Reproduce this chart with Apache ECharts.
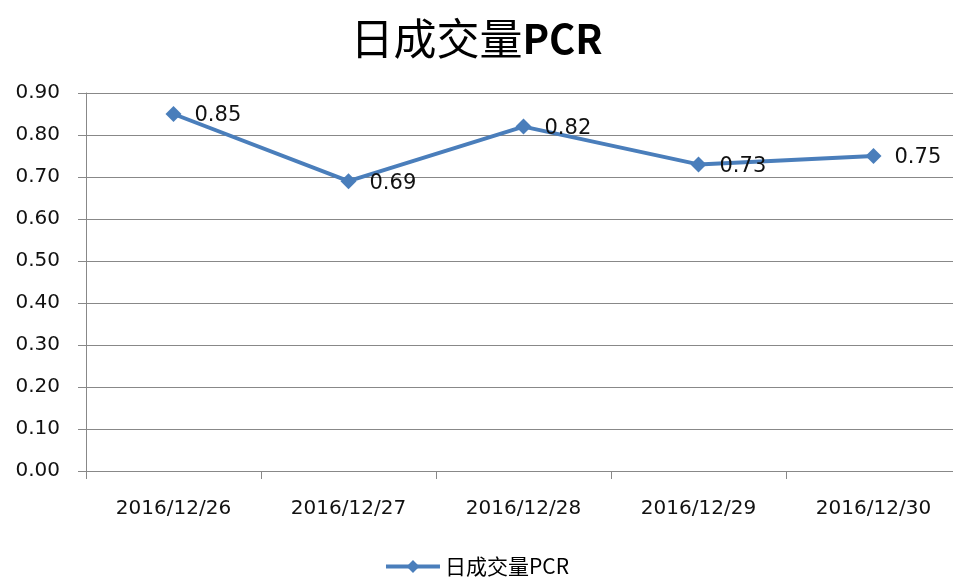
<!DOCTYPE html>
<html>
<head>
<meta charset="utf-8">
<script src="https://cdn.jsdelivr.net/npm/echarts@6/dist/echarts.min.js"></script>
<style>
  html, body { margin: 0; padding: 0; background: #fff; }
  #line { width: 953px; height: 580px; }
</style>
</head>
<body>
<div id="line"></div>
<script>
const categories = ["2016/12/26", "2016/12/27", "2016/12/28", "2016/12/29", "2016/12/30"];
const pcrValues = [0.85, 0.69, 0.82, 0.73, 0.75];
const seriesName = "日成交量PCR";

const chart = echarts.init(document.getElementById("line"));
const option = {
  animation: false,
  title: {
    // 标题：中文常规 + PCR 加粗
    text: "{a|日成交量}{b|PCR}",
    left: "center",
    top: 12,
    textStyle: {
      fontWeight: "normal",
      rich: {
        a: { fontFamily: "Noto Sans CJK SC", fontSize: 43, fontWeight: "normal", color: "#000" },
        b: { fontFamily: "Noto Sans CJK SC", fontSize: 40, fontWeight: "bold", color: "#000" }
      }
    }
  },
  legend: {
    data: [seriesName],
    bottom: -2,
    left: "center",
    itemWidth: 54,
    itemHeight: 16,
    lineStyle: { width: 4 },
    textStyle: {
      fontFamily: "Noto Sans CJK SC",
      fontSize: 21,
      color: "#000"
    }
  },
  grid: {
    left: 86,
    width: 875,
    top: 93,
    bottom: 109,
    outerBoundsMode: "none"
  },
  xAxis: {
    type: "category",
    data: categories,
    boundaryGap: true,
    axisLine: { lineStyle: { color: "#888", width: 1 } },
    axisTick: { show: true, length: 8, lineStyle: { color: "#888" } },
    axisLabel: {
      margin: 28,
      fontFamily: "DejaVu Sans",
      fontSize: 20,
      color: "#111"
    }
  },
  yAxis: {
    type: "value",
    min: 0,
    max: 0.9,
    interval: 0.1,
    axisLine: { show: true, lineStyle: { color: "#888", width: 1 } },
    axisTick: { show: true, length: 8, lineStyle: { color: "#888" } },
    splitLine: { lineStyle: { color: "#888", width: 1 } },
    axisLabel: {
      margin: 26,
      fontFamily: "DejaVu Sans",
      fontSize: 20,
      color: "#111",
      formatter: v => v.toFixed(2)
    }
  },
  series: [
    {
      name: seriesName,
      type: "line",
      data: pcrValues,
      symbol: "diamond",
      symbolSize: 16,
      lineStyle: { color: "#4a7ebb", width: 4 },
      itemStyle: { color: "#4a7ebb" },
      label: {
        show: true,
        position: "right",
        distance: 13,
        offset: [0, 2],
        fontFamily: "DejaVu Sans",
        fontSize: 21,
        color: "#111",
        formatter: p => p.value.toFixed(2)
      }
    }
  ]
};
chart.setOption(option);
</script>
</body>
</html>
